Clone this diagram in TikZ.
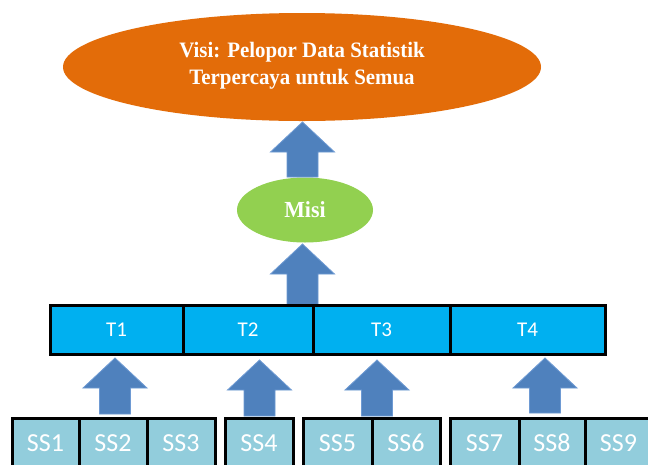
\documentclass[tikz,border=0pt]{standalone}
\usepackage{fontspec}
\setmainfont{Carlito}
\newfontfamily\headfont[FakeStretch=0.95]{Liberation Serif}
\usetikzlibrary{shapes.geometric}
\definecolor{visiorange}{HTML}{E36C09}
\definecolor{misigreen}{HTML}{92D050}
\definecolor{tujuanblue}{HTML}{00B0F0}
\definecolor{sasaranblue}{HTML}{92CDDC}
\definecolor{arrowblue}{HTML}{4F81BD}
\definecolor{arrowedge}{HTML}{6E9AD3}

% block arrow pointing up: name, x, y of tip, y of shaft end
\newcommand\blockup[4]{%
  \coordinate (#1) at (#2,#3);
  \filldraw[arrowfill]
    (#2,#3) -- ({#2+32},{#3+30}) -- ({#2+15.5},{#3+30}) -- ({#2+15.5},#4)
    -- ({#2-15.5},#4) -- ({#2-15.5},{#3+30}) -- ({#2-32},{#3+30}) -- cycle;}

\begin{document}
\begin{tikzpicture}[x=1pt,y=-1pt,
  arrowfill/.style={fill=arrowblue,draw=arrowedge,line width=0.8pt,line join=miter},
  tbox/.style={rectangle,draw=black,line width=3pt,fill=tujuanblue,text=white,
    inner sep=0pt,minimum height=49pt,font=\fontsize{21}{23}\selectfont},
  ssbox/.style={rectangle,draw=black,line width=3pt,fill=sasaranblue,text=white,
    inner sep=0pt,minimum height=50pt,font=\fontsize{26}{28}\selectfont}]
\clip (0,0) rectangle (648,464);
\fill[white] (0,0) rectangle (648,464);

% vision and mission
\node[ellipse,fill=visiorange,inner sep=0pt,minimum width=478pt,minimum height=108pt] (visi) at (302,67) {};
\node[text=white,align=center,font=\headfont\bfseries\fontsize{22}{27}\selectfont] (visitext) at (302,66)
  {Visi: Pelopor Data Statistik\\Terpercaya untuk Semua};
\node[ellipse,fill=misigreen,inner sep=0pt,minimum width=136pt,minimum height=65pt,
  text=white,font=\headfont\bfseries\fontsize{23}{26}\selectfont] (misi) at (305,210) {Misi};

% arrows
\blockup{a1}{302.5}{122}{177}
\blockup{a2}{302.5}{244}{305}
\blockup{a3}{115}{358}{414}
\blockup{a4}{259.5}{360}{416}
\blockup{a5}{377}{360}{416}
\blockup{a6}{545}{358}{413}

% goals
\node[tbox,minimum width=133pt] (t1) at (116.5,329.5) {T1};
\node[tbox,minimum width=130pt] (t2) at (248,329.5) {T2};
\node[tbox,minimum width=137pt] (t3) at (381.5,329.5) {T3};
\node[tbox,minimum width=155pt] (t4) at (527.5,329.5) {T4};

% strategic targets
\node[ssbox,minimum width=67pt] (ss1) at (45.5,443) {SS1};
\node[ssbox,minimum width=68pt] (ss2) at (113,443) {SS2};
\node[ssbox,minimum width=68pt] (ss3) at (181,443) {SS3};
\node[ssbox,minimum width=68pt] (ss4) at (259,443) {SS4};
\node[ssbox,minimum width=69pt] (ss5) at (337.5,443) {SS5};
\node[ssbox,minimum width=68pt] (ss6) at (406,443) {SS6};
\node[ssbox,minimum width=69pt] (ss7) at (484.5,443) {SS7};
\node[ssbox,minimum width=66pt] (ss8) at (552,443) {SS8};
\node[ssbox,minimum width=67pt] (ss9) at (618.5,443) {SS9};
\end{tikzpicture}
\end{document}
